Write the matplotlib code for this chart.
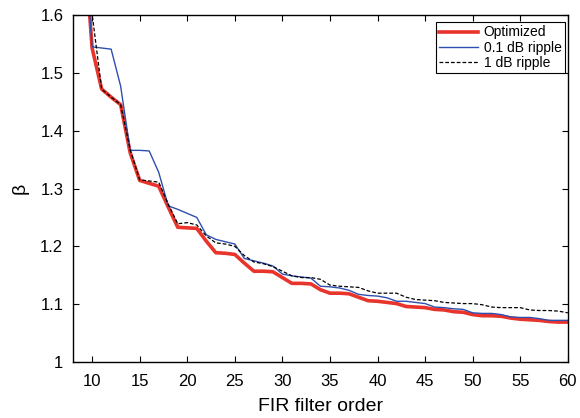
import matplotlib
matplotlib.use('Agg')
import matplotlib.pyplot as plt
from matplotlib.ticker import FormatStrFormatter

plt.rcParams['font.family'] = ['Liberation Sans', 'DejaVu Sans']

# beta vs. FIR filter order
order = list(range(9, 61))

optimized = [1.77, 1.543, 1.472, 1.458, 1.445, 1.362, 1.314, 1.309, 1.304, 1.268,
             1.233, 1.232, 1.231, 1.209, 1.189, 1.188, 1.186, 1.171, 1.157, 1.157,
             1.156, 1.146, 1.136, 1.136, 1.135, 1.125, 1.119, 1.119, 1.118, 1.112,
             1.106, 1.105, 1.103, 1.101, 1.096, 1.095, 1.094, 1.091, 1.090, 1.087,
             1.086, 1.082, 1.080, 1.080, 1.079, 1.076, 1.074, 1.073, 1.072, 1.070,
             1.069, 1.069]

ripple_01 = [1.77, 1.545, 1.543, 1.541, 1.477, 1.366, 1.366, 1.365, 1.328, 1.270,
             1.264, 1.257, 1.250, 1.220, 1.212, 1.208, 1.204, 1.179, 1.175, 1.171,
             1.166, 1.152, 1.149, 1.147, 1.145, 1.131, 1.130, 1.128, 1.124, 1.117,
             1.115, 1.114, 1.111, 1.105, 1.105, 1.103, 1.101, 1.095, 1.094, 1.092,
             1.091, 1.085, 1.084, 1.084, 1.082, 1.078, 1.077, 1.077, 1.075, 1.072,
             1.072, 1.072]

ripple_1 = [1.95, 1.602, 1.472, 1.458, 1.445, 1.367, 1.315, 1.313, 1.311, 1.273,
            1.239, 1.241, 1.237, 1.218, 1.206, 1.204, 1.200, 1.184, 1.173, 1.170,
            1.165, 1.157, 1.149, 1.146, 1.146, 1.143, 1.133, 1.131, 1.130, 1.129,
            1.123, 1.119, 1.119, 1.119, 1.112, 1.108, 1.107, 1.106, 1.103, 1.102,
            1.101, 1.101, 1.099, 1.095, 1.094, 1.094, 1.094, 1.090, 1.089, 1.089,
            1.088, 1.085]

fig = plt.figure(figsize=(5.8, 4.18), dpi=100)
ax = fig.add_axes([0.126, 0.134, 0.853, 0.830])

ax.plot(order, optimized, color='#e8342a', lw=2.6, label='Optimized')
ax.plot(order, ripple_01, color='#2f4fb0', lw=1.0, label='0.1 dB ripple')
ax.plot(order, ripple_1, color='black', lw=0.9, ls=(0, (3, 1.6)), label='1 dB ripple')

ax.set_xlim(8, 60)
ax.set_ylim(1, 1.6)
ax.set_xticks(range(10, 61, 5))
ax.set_yticks([1, 1.1, 1.2, 1.3, 1.4, 1.5, 1.6])
ax.yaxis.set_major_formatter(FormatStrFormatter('%g'))
ax.tick_params(direction='in', top=True, right=True, labelsize=12, length=4, width=0.8)
ax.tick_params(axis='x', pad=9)
ax.tick_params(axis='y', pad=7)
for s in ax.spines.values():
    s.set_linewidth(1.0)

ax.set_xlabel('FIR filter order', fontsize=14, labelpad=6)
ax.set_ylabel('β', fontsize=14, labelpad=8)

leg = ax.legend(loc='upper right', bbox_to_anchor=(0.994, 0.98), borderaxespad=0,
                fontsize=10, fancybox=False, framealpha=1, edgecolor='black',
                borderpad=0.25, labelspacing=0.08, handlelength=2.8,
                handletextpad=0.4)
leg.get_frame().set_linewidth(0.8)

fig.savefig('out.png', dpi=100)
